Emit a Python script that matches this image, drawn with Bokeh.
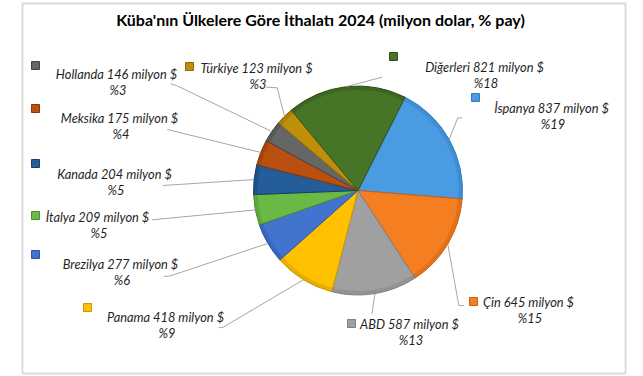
import numpy as np
from bokeh.plotting import figure
from bokeh.models import Range1d, BoxAnnotation, Label, ColumnDataSource
from bokeh.embed import file_html
from bokeh.resources import INLINE
from bokeh.core.properties import value

# ---- data ----
countries = ["İspanya", "Çin", "ABD", "Panama", "Brezilya", "İtalya",
             "Kanada", "Meksika", "Hollanda", "Türkiye", "Diğerleri"]
values = [837, 645, 587, 418, 277, 209, 204, 175, 146, 123, 821]
title_text = "Küba'nın Ülkelere Göre İthalatı 2024 (milyon dolar, % pay)"

# ---- styles / layout ----
colors = ["#4A9BE2", "#F47E20", "#A0A0A0", "#FFC000", "#4173CF", "#6BB845",
          "#245D99", "#B9500F", "#666666", "#C08F0A", "#477527"]
edge_colors = ["#2F7CC0", "#C9600E", "#7F7F7F", "#C99700", "#2B55A6", "#4E8E2E",
               "#173F6B", "#84380A", "#444444", "#8C6806", "#2F5119"]
W, H = 643, 376
CX, CY, R = 357.5, 190.0, 104.5   # screen px
ROT = 26.8                         # first slice start, deg clockwise from 12

# label text centre (line 1) in screen px
lab_x = [551, 528, 409, 165, 120, 97, 114, 119, 116, 256, 484]
lab_y = [107, 301, 323, 316, 263, 216, 173, 117, 73, 67, 66]
# legend key squares
key_x = [475, 473, 351, 87, 35, 35, 35, 35, 35, 189, 393]
key_y = [97, 301, 323, 307, 254, 215, 163, 108, 65, 66, 56]
# leader line label-side points (screen px)
lead_pts = [
    [(457.3, 117.3), (461.7, 117.3)],
    [(458.3, 305.0), (463.3, 305.0)],
    [(371.5, 313.3)],
    [(222.7, 326.7), (218.3, 327.3)],
    [(170.0, 275.3), (163.3, 276.0)],
    [(151.7, 219.3)],
    [(162.3, 185.0)],
    [(166.7, 129.0)],
    [(176.0, 85.0), (170.0, 83.3)],
    [(276.7, 87.3), (266.0, 86.7)],
    [(381.7, 76.7)],
]

def fy(ys):
    return H - ys

vals = np.array(values, dtype=float)
total = vals.sum()
frac = vals / total
pcts = [int(round(f * 100)) for f in frac]
deg = frac * 360.0
starts = ROT + np.concatenate([[0], np.cumsum(deg)[:-1]])
ends = starts + deg
mids = (starts + ends) / 2

p = figure(width=W, height=H, output_backend="svg", toolbar_location=None,
           x_range=Range1d(0, W), y_range=Range1d(0, H), min_border=0)
p.axis.visible = False
p.grid.visible = False
p.outline_line_color = None
p.background_fill_color = "white"
p.border_fill_color = "white"

# frame
p.add_layout(BoxAnnotation(left=22, right=625, bottom=fy(373), top=fy(3),
                           fill_alpha=0, line_color="#878787", line_width=2))

# pie
src = ColumnDataSource(dict(
    start=90 - starts, end=90 - ends, color=colors, edge=edge_colors))
p.wedge(x=CX, y=fy(CY), radius=R, radius_units="screen",
        start_angle="start", end_angle="end", start_angle_units="deg",
        end_angle_units="deg", direction="clock", source=src,
        fill_color="color", line_color="edge", line_width=1)
# subtle rim shading (bevel)
p.annular_wedge(x=CX, y=fy(CY), inner_radius=R - 4, outer_radius=R,
                inner_radius_units="screen", outer_radius_units="screen",
                start_angle="start", end_angle="end", start_angle_units="deg",
                end_angle_units="deg", direction="clock", source=src,
                fill_color="edge", fill_alpha=0.4, line_color=None)

# leader lines
xs, ys = [], []
for m, pts in zip(mids, lead_pts):
    a = np.radians(90 - m)
    ex = CX + R * np.cos(a)
    ey = CY - R * np.sin(a)
    xs.append([ex] + [q[0] for q in pts])
    ys.append([fy(ey)] + [fy(q[1]) for q in pts])
p.multi_line(xs=xs, ys=ys, line_color="#A6A6A6", line_width=1)

# legend keys
p.scatter(x=key_x, y=[fy(v) for v in key_y], marker="square", size=8,
          fill_color=colors, line_color=edge_colors, line_width=1)

# labels
line1 = [f"{c} {v} milyon $" for c, v in zip(countries, values)]
line2 = [f"%{q}" for q in pcts]
font = value("Lato")
p.text(x=lab_x, y=[fy(v) for v in lab_y], text=line1, text_font=font,
       text_font_style="italic", text_font_size="12.8px", text_color="#1F1F1F",
       text_align="center", text_baseline="middle")
p.text(x=[x + 1.5 for x in lab_x], y=[fy(v + 16) for v in lab_y], text=line2,
       text_font=font, text_font_style="italic", text_font_size="12.8px",
       text_color="#1F1F1F", text_align="center", text_baseline="middle")

p.add_layout(Label(x=320, y=fy(19), text=title_text, text_font="Lato",
                   text_font_style="bold", text_font_size="16px",
                   text_color="#000000", text_align="center",
                   text_baseline="middle"))

open("out.html", "w").write(file_html(p, INLINE))
